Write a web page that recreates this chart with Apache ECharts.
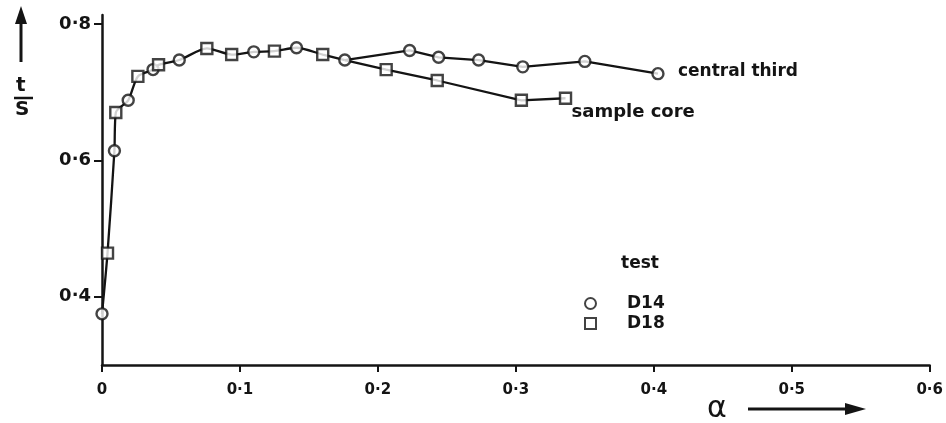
<!DOCTYPE html>
<html>
<head>
<meta charset="utf-8">
<script src="https://cdn.jsdelivr.net/npm/echarts@6/dist/echarts.min.js"></script>
<style>html,body{margin:0;padding:0;background:#fff}#c{width:946px;height:423px}</style>
</head>
<body>
<div id="c"></div>
<script>
// D14 (circles) - central third
const d14X = [0, 0.009, 0.019, 0.037, 0.056, 0.110, 0.141, 0.176, 0.223, 0.244, 0.273, 0.305, 0.350, 0.403];
const d14Y = [0.375, 0.614, 0.688, 0.733, 0.747, 0.759, 0.765, 0.747, 0.761, 0.751, 0.747, 0.737, 0.745, 0.727];
// D18 (squares) - sample core
const d18X = [0.004, 0.010, 0.026, 0.041, 0.076, 0.094, 0.125, 0.160, 0.206, 0.243, 0.304, 0.336];
const d18Y = [0.464, 0.670, 0.723, 0.740, 0.764, 0.755, 0.760, 0.755, 0.733, 0.717, 0.688, 0.691];
const xTicks = [0, 0.1, 0.2, 0.3, 0.4, 0.5, 0.6];
const yTicks = [0.4, 0.6, 0.8];
const seriesNames = ['D14', 'D18'];
const curveNames = ['central third', 'sample core'];
const branchIndex = 7; // last D14 point shared by both curves

const ink = '#141414';
const font = 'DejaVu Sans';
const pts = (xs, ys) => xs.map((x, i) => [x, ys[i]]);
const d14 = pts(d14X, d14Y);
const d18 = pts(d18X, d18Y);
const bx = d14X[branchIndex];
const common = d14.filter(p => p[0] <= bx).concat(d18.filter(p => p[0] <= bx)).sort((a, b) => a[0] - b[0]);
const central = d14.filter(p => p[0] >= bx);
const core = [d14[branchIndex]].concat(d18.filter(p => p[0] > bx));
const fmt = v => (Math.abs(v) < 1e-9 ? '0' : v.toFixed(1).replace('.', '\u00b7'));

const chart = echarts.init(document.getElementById('c'));
chart.setOption({
  backgroundColor: '#fff',
  animation: false,
  grid: { left: 102, right: 10, top: 15, bottom: 58 },
  xAxis: {
    type: 'value', min: 0, max: 0.6, interval: 0.1,
    axisLine: { lineStyle: { color: ink, width: 2.5 } },
    axisTick: { show: true, length: 7, lineStyle: { color: ink, width: 2 }, customValues: xTicks },
    axisLabel: { color: ink, fontFamily: font, fontWeight: 'bold', fontSize: 15, margin: 18, formatter: fmt, customValues: xTicks },
    splitLine: { show: false }
  },
  yAxis: {
    type: 'value', min: 0.3, max: 0.813,
    axisLine: { show: true, lineStyle: { color: ink, width: 2.5 } },
    axisTick: { show: true, length: 8, lineStyle: { color: ink, width: 2 }, customValues: yTicks },
    axisLabel: { color: ink, fontFamily: font, fontWeight: 'bold', fontSize: 18, margin: 11, formatter: fmt, customValues: yTicks },
    splitLine: { show: false }
  },
  legend: {
    data: seriesNames, orient: 'vertical', left: 579, top: 290, itemGap: 3,
    itemWidth: 11, itemHeight: 11,
    textStyle: { color: ink, fontFamily: font, fontWeight: 'bold', fontSize: 17, padding: [0, 0, 0, 26] }
  },
  graphic: [
    { type: 'text', left: 621, top: 255, style: { text: 'test', fill: ink, font: 'bold 17px "DejaVu Sans"' } },
    { type: 'text', left: 16, top: 76, style: { text: 't', fill: ink, font: 'bold 20px "DejaVu Sans"' } },
    { type: 'line', shape: { x1: 14, y1: 98, x2: 33, y2: 98 }, style: { stroke: ink, lineWidth: 2.5 } },
    { type: 'text', left: 15, top: 100, style: { text: 'S', fill: ink, font: 'bold 20px "DejaVu Sans"' } },
    { type: 'line', shape: { x1: 21, y1: 62, x2: 21, y2: 20 }, style: { stroke: ink, lineWidth: 3 } },
    { type: 'polygon', shape: { points: [[21, 6], [15, 24], [27, 24]] }, style: { fill: ink } },
    { type: 'text', left: 707, top: 394, style: { text: '\u03b1', fill: ink, font: '30px "DejaVu Sans"' } },
    { type: 'line', shape: { x1: 748, y1: 409, x2: 848, y2: 409 }, style: { stroke: ink, lineWidth: 3 } },
    { type: 'polygon', shape: { points: [[866, 409], [845, 403], [845, 415]] }, style: { fill: ink } }
  ],
  series: [
    { type: 'line', data: common, symbol: 'none', smooth: 0.25, z: 2,
      lineStyle: { color: ink, width: 2.3 } },
    { type: 'line', name: curveNames[0], data: central, symbol: 'none', z: 2,
      lineStyle: { color: ink, width: 2.3 },
      endLabel: { show: true, formatter: curveNames[0], color: ink, fontFamily: font, fontWeight: 'bold', fontSize: 17, distance: 20, offset: [0, -2] } },
    { type: 'line', name: curveNames[1], data: core, symbol: 'none', z: 2,
      lineStyle: { color: ink, width: 2.3 },
      endLabel: { show: true, formatter: curveNames[1], color: ink, fontFamily: font, fontWeight: 'bold', fontSize: 18, distance: 6, offset: [0, 14] } },
    { type: 'scatter', name: seriesNames[0], data: d14, symbol: 'circle', symbolSize: 11, z: 5,
      itemStyle: { color: '#fff', borderColor: ink, borderWidth: 2.4 } },
    { type: 'scatter', name: seriesNames[1], data: d18, symbol: 'rect', symbolSize: 11, z: 5,
      itemStyle: { color: '#fff', borderColor: ink, borderWidth: 2.4 } }
  ]
});
</script>
</body>
</html>
